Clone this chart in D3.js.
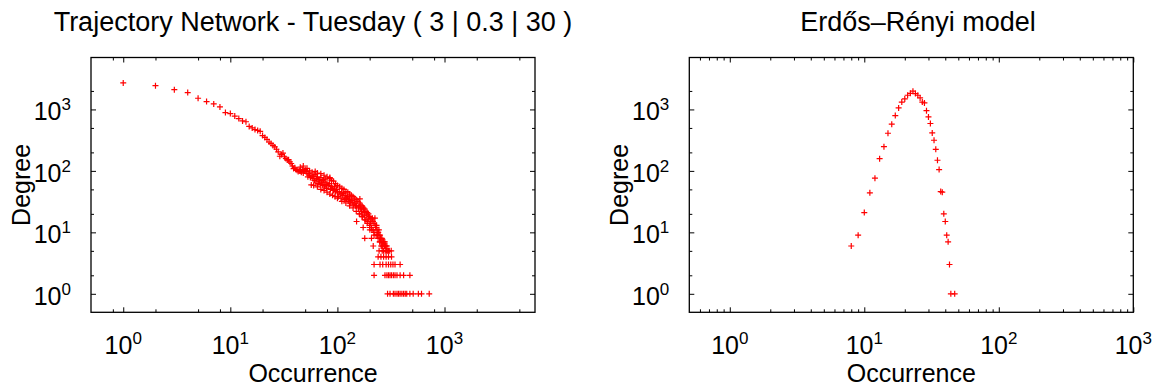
<!DOCTYPE html>
<html><head><meta charset="utf-8">
<script src="https://cdn.jsdelivr.net/npm/d3@7"></script>
<style>
html,body{margin:0;padding:0;background:#fff;}
svg{display:block;font-family:"Liberation Sans",Arial,Helvetica,sans-serif;}
</style></head>
<body>
<svg id="chart" width="1161" height="387"></svg>
<script>
// ---- Data ----
const trajTitle = "Trajectory Network - Tuesday ( 3 | 0.3 | 30 )";
const erTitle = "Erdős–Rényi model";
const xLabel = "Occurrence";
const yLabel = "Degree";

const trajOcc = [1,2,3,4,5,6,7,8,9,10,11,12,13,14,15,16,17,18,19,20,
  21,22,23,24,25,26,27,28,29,30,31,32,33,34,35,36,37,38,39,40,
  41,42,43,44,45,46,47,48,49,50,51,52,53,54,55,56,57,58,59,60,
  61,62,63,64,65,66,67,68,69,70,71,72,73,74,75,76,77,78,79,80,
  82,84,85,86,88,90,92,94,96,98,100,102,104,106,108,110,112,114,116,118,
  120,122,124,126,128,130,133,136,139,142,145,148,151,151,157,160,162,162,165,168,
  171,174,174,177,180,180,184,188,192,196,200,201,204,208,208,212,216,216,220,224,
  228,232,236,240,244,248,252,256,260,265,270,277,280,285,288,
  45,48,52,55,58,62,65,70,75,80,85,88,92,96,100,105,110,115,120,125,
  130,135,140,145,150,155,160,165,170,175,180,185,190,195,200,205,210,215,220,225,
  230,235,240,245,250,255,260,265,270,275,280,290,295,305,
  60,65,70,75,80,85,90,95,100,110,120,130,140,150,160,170,180,190,200,210,
  220,230,240,250,260,270,
  245,262,280,300,318,
  240,255,270,285,300,320,
  220,250,265,285,300,315,330,345,385,
  220,278,290,300,310,320,333,345,360,385,415,475,
  294,310,333,345,360,372,385,400,415,430,444,475,510,570,610,720];
const trajDeg = [2700,2440,2100,1880,1520,1340,1230,1100,890,855,780,710,650,630,530,500,470,455,440,375,
  350,325,295,280,260,245,225,204,173,185,195,170,159,150,152,140,132,120,109,112,
  105,102,98,100,100,95,105,92,100,105,98,92,80,90,85,78,59,82,75,82,
  70,88,66,75,80,62,72,68,60,78,64,70,58,72,66,55,74,60,52,64,
  58,62,75,50,56,52,48,55,46,50,44,38,46,42,36,44,40,43,34,40,
  36,35,38,32,36,34,30,33,31,28,30,27,27,15,25,26,20,35,24,22,
  18,24,12,19,21,8,16,19,15,17,13,11,14,12,8,17,6,11,9,17,
  12,13,9,10,11,7,8,6,7,6,7,7,6,6,5,
  115,120,110,100,95,98,92,90,85,80,78,70,68,62,58,55,52,50,46,45,
  42,40,38,36,34,32,30,28,27,25,24,22,21,20,18,17,16,15,14,13,
  12,11,10,9,9,8,8,7,7,6,6,6,5,5,
  58,55,50,48,45,42,40,38,36,32,30,27,25,22,20,18,16,14,12,11,
  10,9,8,7,6,5,
  5,5,5,5,5,
  4,4,4,4,4,4,
  3,3,3,3,3,3,3,3,3,
  2,2,2,2,2,2,2,2,2,2,2,2,
  1,1,1,1,1,1,1,1,1,1,1,1,1,1,1,1];

const erOcc = [8,9,10,11,12,13,14,15,16,17,18,19,20,21,22,23,24,25,26,27,
  28,29,30,31,32,33,34,35,36,37,38,39,40,41,42,43,44,47];
const erDeg = [6,9,21,44,76,158,248,410,575,795,1060,1320,1480,1700,1830,1980,1810,1700,1540,1320,
  1275,956,754,590,414,315,224,149,105,46,45,20,15,9,7,3,1,1];

const xMajorTicks = [1,10,100,1000];
const yMajorTicks = [1,10,100,1000];
const trajXMinor = [0.8,2,5,8,20,50,80,200,500,800,2000,5000];
const erXMinor = [0.6,0.7,0.8,0.9,2,3,4,5,6,7,8,9,20,30,40,50,60,70,80,90,200,300,400,500,600,700,800,900];
const yMinor = [2,5,20,50,200,500,2000];

// ---- Drawing ----
const svg = d3.select("#chart");
svg.append("rect").attr("width",1161).attr("height",387).attr("fill","#fff");

const yScale = d3.scaleLog().domain([0.5,7000]).range([312.3,57.5]);

function supLabel(sel){
  sel.each(function(d){
    const t = d3.select(this);
    t.text(null);
    const e = Math.round(Math.log10(d));
    t.append("tspan").text("10");
    t.append("tspan").attr("dy",-10).attr("font-size",17).text(String(e));
  });
}

function panel(opts){
  const {x, occ, deg, title, xMinor, yLabX, titleX} = opts;
  const g = svg.append("g");
  const [x0,x1] = x.range();
  const [y0,y1] = yScale.range();

  const axB = g.append("g").attr("transform",`translate(0,${y0})`);
  axB.call(d3.axisBottom(x).tickValues(xMajorTicks).tickSizeInner(-5).tickSizeOuter(0).tickFormat(""));
  const axB2 = g.append("g").attr("transform",`translate(0,${y0})`);
  axB2.call(d3.axisBottom(x).tickValues(xMinor).tickSizeInner(-3).tickSizeOuter(0).tickFormat(""));
  const axT = g.append("g").attr("transform",`translate(0,${y1})`);
  axT.call(d3.axisTop(x).tickValues(xMajorTicks).tickSizeInner(-5).tickSizeOuter(0).tickFormat(""));
  const axT2 = g.append("g").attr("transform",`translate(0,${y1})`);
  axT2.call(d3.axisTop(x).tickValues(xMinor).tickSizeInner(-3).tickSizeOuter(0).tickFormat(""));
  const axL = g.append("g").attr("transform",`translate(${x0},0)`);
  axL.call(d3.axisLeft(yScale).tickValues(yMajorTicks).tickSizeInner(-5).tickSizeOuter(0).tickFormat(""));
  const axL2 = g.append("g").attr("transform",`translate(${x0},0)`);
  axL2.call(d3.axisLeft(yScale).tickValues(yMinor).tickSizeInner(-3).tickSizeOuter(0).tickFormat(""));
  const axR = g.append("g").attr("transform",`translate(${x1},0)`);
  axR.call(d3.axisRight(yScale).tickValues(yMajorTicks).tickSizeInner(-5).tickSizeOuter(0).tickFormat(""));
  const axR2 = g.append("g").attr("transform",`translate(${x1},0)`);
  axR2.call(d3.axisRight(yScale).tickValues(yMinor).tickSizeInner(-3).tickSizeOuter(0).tickFormat(""));
  g.selectAll(".domain").remove();
  g.selectAll(".tick line").attr("stroke","#000").attr("stroke-width",1);

  g.append("rect").attr("x",x0).attr("y",y1).attr("width",x1-x0).attr("height",y0-y1)
    .attr("fill","none").attr("stroke","#000").attr("stroke-width",1.3);

  g.append("g").selectAll("text").data(xMajorTicks).join("text")
    .attr("x",d=>x(d)).attr("y",354).attr("text-anchor","middle")
    .attr("font-size",25).attr("fill","#000").call(supLabel);
  g.append("g").selectAll("text").data(yMajorTicks).join("text")
    .attr("x",x0-20).attr("y",d=>yScale(d)+11).attr("text-anchor","end")
    .attr("font-size",25).attr("fill","#000").call(supLabel);

  g.append("text").attr("x",(x0+x1)/2).attr("y",382).attr("text-anchor","middle")
    .attr("font-size",25).text(xLabel);
  g.append("text").attr("transform",`translate(${yLabX},${(y0+y1)/2}) rotate(-90)`)
    .attr("text-anchor","middle").attr("font-size",25).text(yLabel);
  g.append("text").attr("x",titleX).attr("y",31).attr("text-anchor","middle")
    .attr("font-size",27).text(title);

  const pts = occ.map((o,i)=>[o,deg[i]]);
  g.append("g").selectAll("path").data(pts).join("path")
    .attr("d",d=>{const px=x(d[0]), py=yScale(d[1]); return `M${px-3},${py}H${px+3}M${px},${py-3}V${py+3}`;})
    .attr("stroke","#ff0000").attr("stroke-width",1.2).attr("fill","none");
}

panel({x:d3.scaleLog().domain([0.5,7000]).range([91,535]), occ:trajOcc, deg:trajDeg,
  title:trajTitle, xMinor:trajXMinor, yLabX:30, titleX:313});
panel({x:d3.scaleLog().domain([0.5,1000]).range([689.3,1133.3]), occ:erOcc, deg:erDeg,
  title:erTitle, xMinor:erXMinor, yLabX:628, titleX:918});
</script>
</body></html>
